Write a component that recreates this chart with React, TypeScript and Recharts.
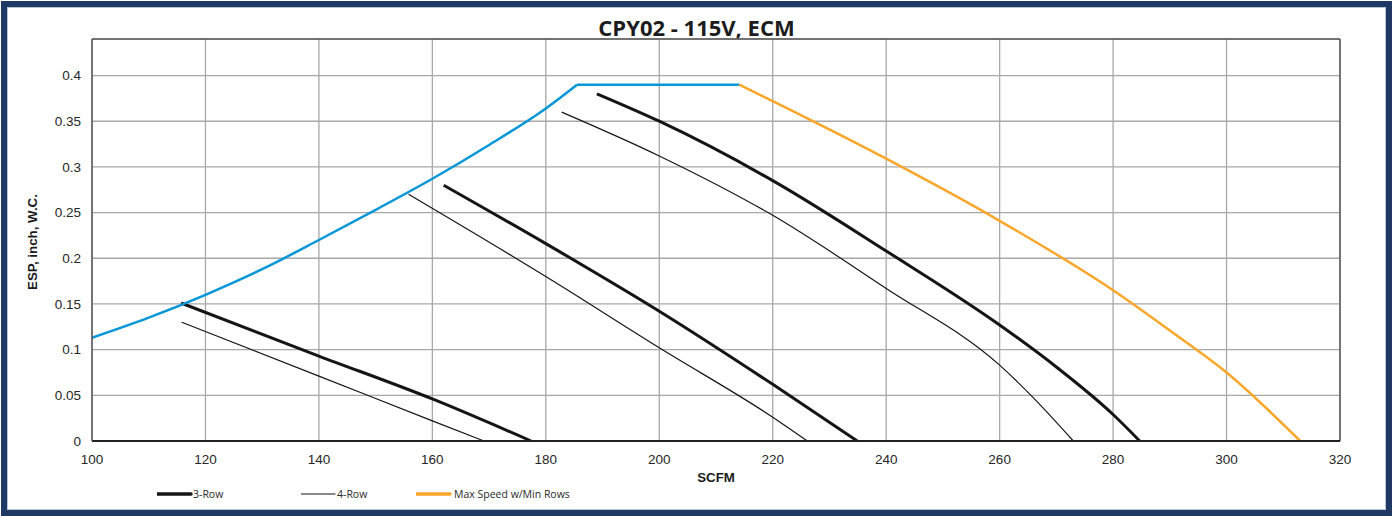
import React from "react";
import {
  LineChart,
  Line,
  XAxis,
  YAxis,
  CartesianGrid,
  ReferenceLine,
} from "recharts";

const xTicks = [100, 120, 140, 160, 180, 200, 220, 240, 260, 280, 300, 320];
const yTicks = [0, 0.05, 0.1, 0.15, 0.2, 0.25, 0.3, 0.35, 0.4];

// blue boundary: rising part, then flat top
const maxSpeedRise = [
  { scfm: 100, esp: 0.113 },
  { scfm: 110, esp: 0.135 },
  { scfm: 120, esp: 0.16 },
  { scfm: 130, esp: 0.188 },
  { scfm: 140, esp: 0.22 },
  { scfm: 150, esp: 0.253 },
  { scfm: 160, esp: 0.287 },
  { scfm: 170, esp: 0.324 },
  { scfm: 180, esp: 0.364 },
  { scfm: 185.5, esp: 0.39 },
];
const maxSpeedTop = [
  { scfm: 185.5, esp: 0.39 },
  { scfm: 214.1, esp: 0.39 },
];
const maxSpeedMinRows = [
  { scfm: 214.1, esp: 0.39 },
  { scfm: 220, esp: 0.372 },
  { scfm: 240, esp: 0.309 },
  { scfm: 260, esp: 0.241 },
  { scfm: 280, esp: 0.165 },
  { scfm: 290, esp: 0.121 },
  { scfm: 300, esp: 0.075 },
  { scfm: 313, esp: 0 },
];

// 3-row coil curves
const row3Low = [
  { scfm: 115.7, esp: 0.151 },
  { scfm: 140, esp: 0.093 },
  { scfm: 160, esp: 0.046 },
  { scfm: 177.4, esp: 0 },
];
const row3Mid = [
  { scfm: 162, esp: 0.28 },
  { scfm: 180, esp: 0.216 },
  { scfm: 200, esp: 0.142 },
  { scfm: 220, esp: 0.062 },
  { scfm: 234.9, esp: 0 },
];
const row3High = [
  { scfm: 189, esp: 0.38 },
  { scfm: 200, esp: 0.35 },
  { scfm: 220, esp: 0.285 },
  { scfm: 240, esp: 0.208 },
  { scfm: 260, esp: 0.127 },
  { scfm: 270, esp: 0.081 },
  { scfm: 280, esp: 0.029 },
  { scfm: 284.7, esp: 0 },
];

// 4-row coil curves
const row4Low = [
  { scfm: 115.8, esp: 0.13 },
  { scfm: 140, esp: 0.071 },
  { scfm: 160, esp: 0.022 },
  { scfm: 169.1, esp: 0 },
];
const row4Mid = [
  { scfm: 155.8, esp: 0.27 },
  { scfm: 180, esp: 0.18 },
  { scfm: 200, esp: 0.102 },
  { scfm: 220, esp: 0.026 },
  { scfm: 226.1, esp: 0 },
];
const row4High = [
  { scfm: 182.8, esp: 0.36 },
  { scfm: 200, esp: 0.312 },
  { scfm: 220, esp: 0.247 },
  { scfm: 240, esp: 0.167 },
  { scfm: 260, esp: 0.083 },
  { scfm: 266, esp: 0.047 },
  { scfm: 273, esp: 0 },
];

const legendItems = [
  { label: "3-Row", color: "#151515", width: 3.5, left: 150, text: 186 },
  { label: "4-Row", color: "#151515", width: 1.2, left: 294, text: 330 },
  { label: "Max Speed w/Min Rows", color: "#F9A62B", width: 3.5, left: 409, text: 447 },
];

const BLUE = "#0796D8";
const ORANGE = "#F9A62B";
const INK = "#151515";

const tickStyle = { fontFamily: "Liberation Sans, Arial, sans-serif", fontSize: 13.5, fill: "#262626" };
const axisTitle = { fontFamily: "Liberation Sans, Arial, sans-serif", fontSize: 13.3, fontWeight: 700, fill: "#1a1a1a" };

// smooth line through the points (cubic Hermite, slopes from neighbours, no limiter)
const smooth = (context: any) => {
  let pts: number[][] = [];
  return {
    areaStart() {},
    areaEnd() {},
    lineStart() {
      pts = [];
    },
    point(x: number, y: number) {
      pts.push([+x, +y]);
    },
    lineEnd() {
      const n = pts.length;
      if (!n) return;
      context.moveTo(pts[0][0], pts[0][1]);
      if (n === 1) return;
      if (n === 2) {
        context.lineTo(pts[1][0], pts[1][1]);
        return;
      }
      const h: number[] = [];
      const d: number[] = [];
      for (let i = 0; i < n - 1; i++) {
        h[i] = pts[i + 1][0] - pts[i][0];
        d[i] = (pts[i + 1][1] - pts[i][1]) / h[i];
      }
      const m: number[] = new Array(n);
      for (let i = 1; i < n - 1; i++) {
        m[i] = (d[i - 1] * h[i] + d[i] * h[i - 1]) / (h[i - 1] + h[i]);
      }
      m[0] = (3 * d[0] - m[1]) / 2;
      m[n - 1] = (3 * d[n - 2] - m[n - 2]) / 2;
      for (let i = 0; i < n - 1; i++) {
        const k = h[i] / 3;
        context.bezierCurveTo(
          pts[i][0] + k,
          pts[i][1] + m[i] * k,
          pts[i + 1][0] - k,
          pts[i + 1][1] - m[i + 1] * k,
          pts[i + 1][0],
          pts[i + 1][1]
        );
      }
    },
  };
};

export default function App() {
  return (
    <div
      style={{
        position: "absolute",
        left: 1,
        top: 1,
        width: 1391,
        height: 515,
        boxSizing: "border-box",
        border: "6px solid #1F3864",
        boxShadow: "inset 0 0 0 1px #B9C4D8",
        background: "#fff",
      }}
    >
      <div
        style={{
          position: "absolute",
          left: 0,
          top: 9,
          width: "100%",
          textAlign: "center",
          fontFamily: "Open Sans, sans-serif",
          fontWeight: 700,
          fontSize: 22,
          lineHeight: "22px",
          color: "#1c1c1c",
        }}
      >
        CPY02 - 115V, ECM
      </div>
      <LineChart
        width={1379}
        height={503}
        margin={{ top: 32, right: 46, left: 25, bottom: 39 }}
      >
        <CartesianGrid stroke="#A8A8A8" strokeWidth={1.3} />
        <XAxis
          dataKey="scfm"
          type="number"
          domain={[100, 320]}
          ticks={xTicks}
          interval={0}
          height={30}
          tickLine={false}
          tickMargin={7}
          axisLine={{ stroke: "#222", strokeWidth: 2 }}
          tick={tickStyle}
          label={{
            content: ({ viewBox }: any) => (
              <text
                x={viewBox.x + viewBox.width / 2}
                y={viewBox.y + 40.8}
                textAnchor="middle"
                style={axisTitle}
              >
                SCFM
              </text>
            ),
          }}
        />
        <YAxis
          type="number"
          domain={[0, 0.44]}
          ticks={yTicks}
          interval={0}
          width={60}
          tickLine={false}
          tickMargin={5}
          axisLine={{ stroke: "#595959", strokeWidth: 1.5 }}
          tick={tickStyle}
          tickFormatter={(v: number) => String(+v.toFixed(2))}
          label={{
            content: ({ viewBox }: any) => {
              const cx = viewBox.x;
              const cy = viewBox.y + viewBox.height / 2 + 2;
              return (
                <text
                  x={cx}
                  y={cy}
                  dy="0.35em"
                  textAnchor="middle"
                  transform={`rotate(-90, ${cx}, ${cy})`}
                  style={axisTitle}
                >
                  ESP, inch, W.C.
                </text>
              );
            },
          }}
        />
        <ReferenceLine y={0.44} stroke="#595959" strokeWidth={1.5} />
        <ReferenceLine x={320} stroke="#595959" strokeWidth={1.5} />

        <Line data={row4Low} dataKey="esp" type={smooth as any} stroke={INK} strokeWidth={1.2} dot={false} activeDot={false} isAnimationActive={false} />
        <Line data={row4Mid} dataKey="esp" type={smooth as any} stroke={INK} strokeWidth={1.2} dot={false} activeDot={false} isAnimationActive={false} />
        <Line data={row4High} dataKey="esp" type={smooth as any} stroke={INK} strokeWidth={1.2} dot={false} activeDot={false} isAnimationActive={false} />
        <Line data={row3Low} dataKey="esp" type={smooth as any} stroke={INK} strokeWidth={3} dot={false} activeDot={false} isAnimationActive={false} />
        <Line data={row3Mid} dataKey="esp" type={smooth as any} stroke={INK} strokeWidth={3} dot={false} activeDot={false} isAnimationActive={false} />
        <Line data={row3High} dataKey="esp" type={smooth as any} stroke={INK} strokeWidth={3} dot={false} activeDot={false} isAnimationActive={false} />
        <Line data={maxSpeedRise} dataKey="esp" type={smooth as any} stroke={BLUE} strokeWidth={2.5} dot={false} activeDot={false} isAnimationActive={false} />
        <Line data={maxSpeedTop} dataKey="esp" type="linear" stroke={BLUE} strokeWidth={2.5} dot={false} activeDot={false} isAnimationActive={false} />
        <Line data={maxSpeedMinRows} dataKey="esp" type={smooth as any} stroke={ORANGE} strokeWidth={2.5} dot={false} activeDot={false} isAnimationActive={false} />
      </LineChart>
      {legendItems.map((item) => (
        <div key={item.label}>
          <svg
            width={36}
            height={6}
            style={{ position: "absolute", left: item.left, top: 484 }}
          >
            <line x1={0} y1={3} x2={34} y2={3} stroke={item.color} strokeWidth={item.width} strokeLinecap="round" />
          </svg>
          <span
            style={{
              position: "absolute",
              left: item.text,
              top: 479,
              fontFamily: "Open Sans, sans-serif",
              fontSize: 10.5,
              lineHeight: "16px",
              color: "#2a2a2a",
            }}
          >
            {item.label}
          </span>
        </div>
      ))}
    </div>
  );
}
